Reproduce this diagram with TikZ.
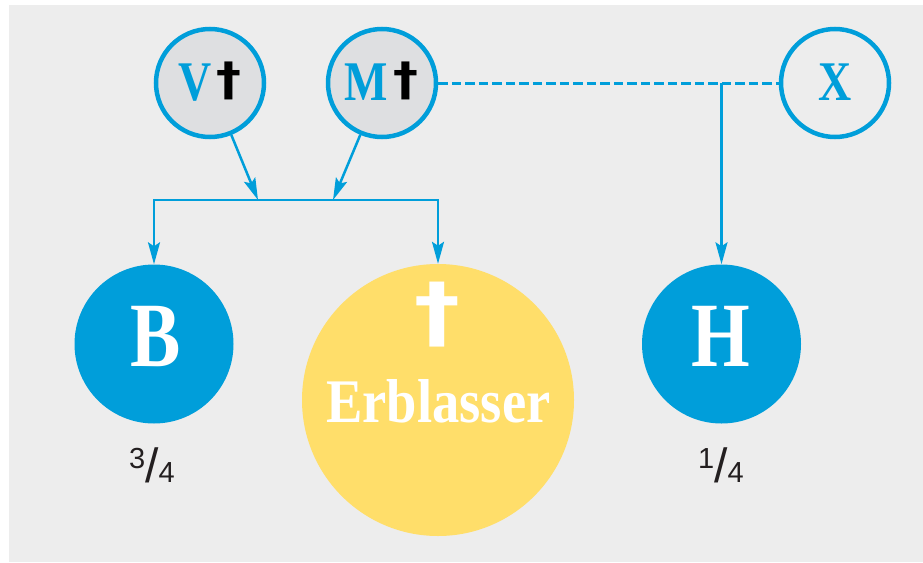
\documentclass[tikz,border=0pt]{standalone}
\usepackage{fontspec}
\usetikzlibrary{arrows.meta}
\newfontfamily\lblfont{Liberation Serif}[FakeStretch=0.82]
\newfontfamily\wlblfont{Liberation Serif}[FakeStretch=0.88]
\newfontfamily\dagfont{DejaVu Sans}
\newfontfamily\fracfont{Liberation Sans}
\definecolor{cblue}{RGB}{0,158,218}
\definecolor{cyellow}{RGB}{255,222,106}
\definecolor{bggray}{RGB}{237,237,237}
\definecolor{cgray}{RGB}{222,223,225}
\definecolor{ctext}{RGB}{35,31,32}
\begin{document}
\begin{tikzpicture}[x=1pt,y=-1pt,
  parent/.style={circle, draw=cblue, line width=4.5pt, fill=cgray, minimum size=108pt, inner sep=0pt},
  xparent/.style={parent, fill=bggray},
  child/.style={circle, fill=cblue, minimum size=159pt, inner sep=0pt},
  deceased/.style={circle, fill=cyellow, minimum size=272pt, inner sep=0pt},
  conn/.style={draw=cblue, line width=2.5pt, line join=miter},
  tip/.style={-{Stealth[length=22pt,width=12pt,inset=4pt]}},
  dashline/.style={draw=cblue, line width=3pt, dash pattern=on 9.5pt off 4pt},
  txt/.style={inner sep=0pt, anchor=base},
  dag/.style={inner sep=0pt, anchor=center},
  frac/.style={inner sep=0pt, anchor=base, text=ctext}]
\useasboundingbox (0,0) rectangle (923,562);
\fill[bggray] (9,5) rectangle (923,562);

% nodes
\node[parent] (V) at (210,83) {};
\node[parent] (M) at (382,83) {};
\node[xparent] (X) at (835,83) {};
\node[child] (B) at (154,344) {};
\node[child] (H) at (721.5,344) {};
\node[deceased] (E) at (438,400) {};

% texts
\node[txt, text=cblue] (Vt) at (195.5,100) {\lblfont\bfseries\fontsize{56}{56}\selectfont V};
\node[dag, text=black] (Vd) at (229,81) {\dagfont\bfseries\resizebox*{25pt}{38pt}{†}};
\node[txt, text=cblue] (Mt) at (366,100) {\lblfont\bfseries\fontsize{56}{56}\selectfont M};
\node[dag, text=black] (Md) at (406,81) {\dagfont\bfseries\resizebox*{25pt}{38pt}{†}};
\node[txt, text=cblue] (Xt) at (835,100) {\lblfont\bfseries\fontsize{56}{56}\selectfont X};
\node[txt, text=white] (Bt) at (155.5,366) {\lblfont\bfseries\fontsize{92}{92}\selectfont B};
\node[txt, text=white] (Ht) at (721,366) {\lblfont\bfseries\fontsize{92}{92}\selectfont H};
\node[dag, text=white] (Ed) at (437.5,314.5) {\dagfont\bfseries\resizebox*{46pt}{65pt}{†}};
\node[txt, text=white] (Et) at (438.5,422.7) {\wlblfont\bfseries\fontsize{62}{62}\selectfont Erblasser};
\node[frac] (fB) at (152,482) {\fracfont\fontsize{29}{29}\selectfont\raisebox{14pt}{3}\fontsize{48}{48}\selectfont/\fontsize{29}{29}\selectfont 4};
\node[frac] (fH) at (721,482) {\fracfont\fontsize{29}{29}\selectfont\raisebox{14pt}{1}\fontsize{48}{48}\selectfont/\fontsize{29}{29}\selectfont 4};

% junctions
\coordinate (jV) at (258,200);
\coordinate (jM) at (333,200);
\coordinate (jL) at (154,200);
\coordinate (jR) at (438,200);
\coordinate (jH) at (721.5,83);

% connectors
\draw[conn, {Stealth[length=22pt,width=12pt,inset=4pt]}-{Stealth[length=22pt,width=12pt,inset=4pt]}] (B) -- (jL) -- (jR) -- (E);
\draw[conn, tip] (V) -- (jV);
\draw[conn, tip] (M) -- (jM);
\draw[dashline] (M) -- (X);
\draw[conn, tip] (jH) -- (H);
\end{tikzpicture}
\end{document}
